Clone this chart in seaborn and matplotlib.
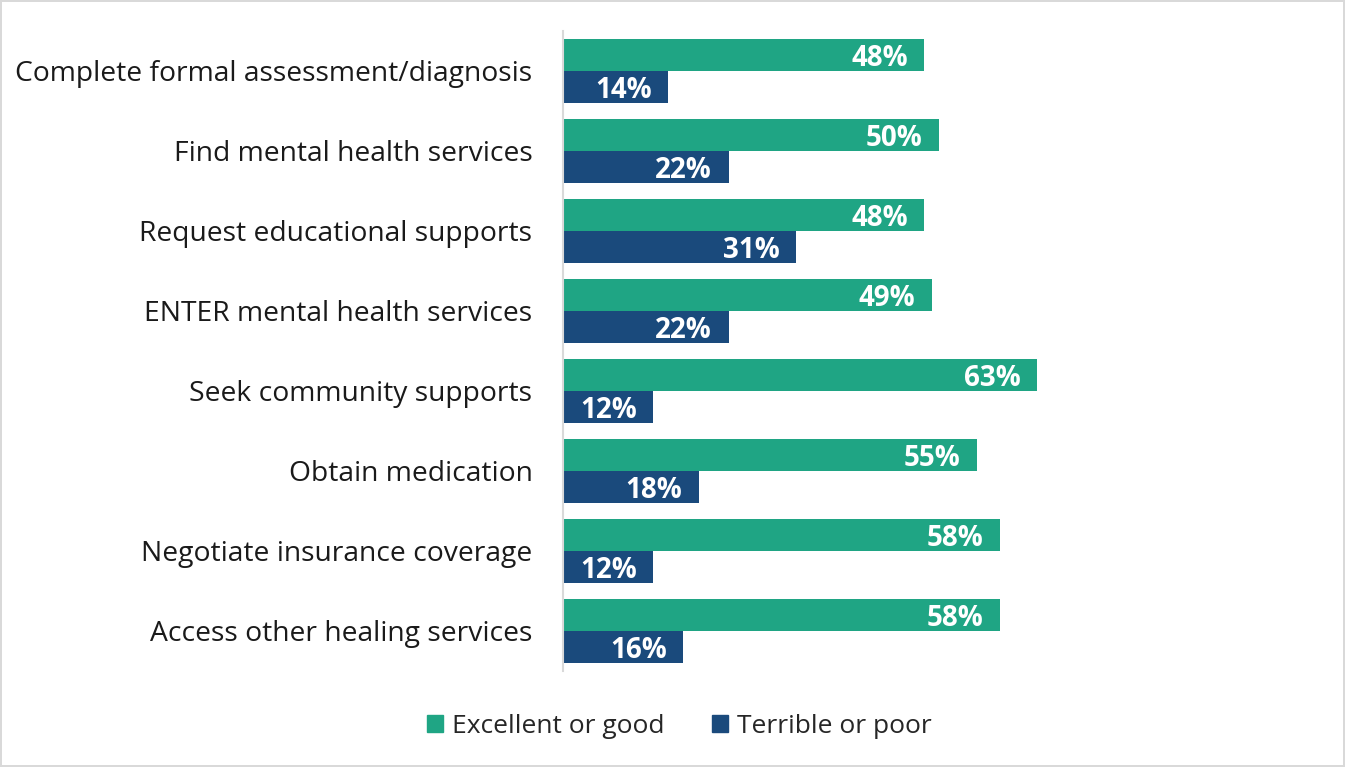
import matplotlib
matplotlib.use("Agg")
import matplotlib.pyplot as plt
import pandas as pd
import seaborn as sns

categories = [
    "Complete formal assessment/diagnosis",
    "Find mental health services",
    "Request educational supports",
    "ENTER mental health services",
    "Seek community supports",
    "Obtain medication",
    "Negotiate insurance coverage",
    "Access other healing services",
]
excellent_or_good = [48, 50, 48, 49, 63, 55, 58, 58]
terrible_or_poor = [14, 22, 31, 22, 12, 18, 12, 16]
series_names = ["Excellent or good", "Terrible or poor"]
series_colors = ["#1FA584", "#1A4A7C"]

df = pd.DataFrame({
    "category": categories * 2,
    "value": excellent_or_good + terrible_or_poor,
    "series": [series_names[0]] * len(categories) + [series_names[1]] * len(categories),
})

sns.set_theme(style="white")
plt.rcParams["font.family"] = ["Open Sans", "DejaVu Sans"]

fig = plt.figure(figsize=(13.45, 7.67), dpi=100)
ax = fig.add_axes([0.4186, 0.1252, 0.3918, 0.8344])

sns.barplot(
    data=df, y="category", x="value", hue="series", orient="h",
    palette=series_colors, hue_order=series_names, order=categories,
    width=0.8, saturation=1, ax=ax, legend=False, errorbar=None,
    linewidth=0, edgecolor="none",
)

ax.set_xlim(0, 70)
ax.set_ylim(len(categories) - 0.5, -0.5)
ax.set_xlabel("")
ax.set_ylabel("")
ax.set_xticks([])
for side in ["top", "right", "bottom"]:
    ax.spines[side].set_visible(False)
ax.spines["left"].set_color("#D9D9D9")
ax.spines["left"].set_linewidth(1.5)
ax.tick_params(axis="y", length=0, pad=22, labelsize=20.3, labelcolor="#1A1A1A")

# value labels inside the bar ends
for container in ax.containers:
    for bar in container:
        w = bar.get_width()
        ax.annotate(
            f"{w:.0f}%",
            xy=(w, bar.get_y() + bar.get_height() / 2),
            xytext=(-12, -2.5), textcoords="offset points",
            ha="right", va="center", color="white",
            fontsize=20, fontweight="bold",
        )

handles = [plt.Rectangle((0, 0), 1, 1, color=c) for c in series_colors]
fig.legend(
    handles, series_names, loc="center", bbox_to_anchor=(0.505, 0.053),
    ncol=2, frameon=False, fontsize=19, handlelength=0.6, handleheight=0.6,
    handletextpad=0.35, columnspacing=1.8,
)

fig.patch.set_edgecolor("#D9D9D9")
fig.patch.set_linewidth(1.5)

fig.savefig("out.png", dpi=100, edgecolor=fig.get_edgecolor())
